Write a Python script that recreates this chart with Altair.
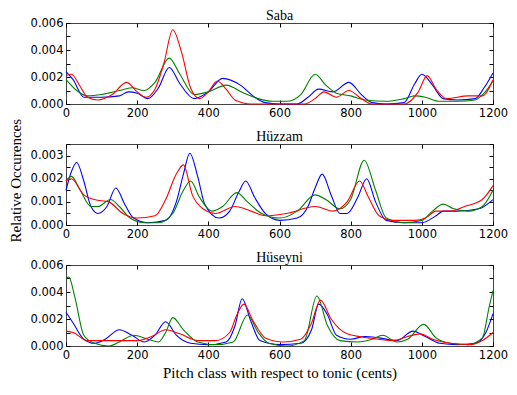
import altair as alt
import pandas as pd

x_ticks = [0, 200, 400, 600, 800, 1000, 1200]

# ---- Saba ----
saba_blue_x = [0, 20, 50, 100, 150, 175, 200, 230, 260, 290, 320, 360, 400, 440, 490, 530, 560, 600, 650, 680, 710, 750, 795, 830, 860, 900, 950, 980, 1000, 1030, 1060, 1100, 1150, 1175, 1200]
saba_blue_y = [0.0024, 0.0018, 0.0005, 0.0005, 0.0006, 0.0009, 0.0008, 0.0004, 0.0012, 0.0027, 0.0015, 0.0004, 0.0009, 0.0019, 0.0014, 0.0005, 0.0001, 0.0000, 0.0000, 0.0005, 0.0011, 0.0009, 0.0016, 0.0007, 0.0001, 0.0000, 0.0001, 0.0015, 0.0022, 0.0014, 0.0004, 0.0003, 0.0004, 0.0012, 0.0023]
saba_green_x = [0, 30, 60, 100, 150, 185, 220, 250, 290, 320, 360, 400, 450, 500, 540, 580, 620, 660, 700, 730, 760, 800, 840, 900, 950, 980, 1010, 1050, 1100, 1150, 1175, 1200]
saba_green_y = [0.0018, 0.0010, 0.0006, 0.0007, 0.0010, 0.0012, 0.0010, 0.0016, 0.0034, 0.0022, 0.0007, 0.0009, 0.0014, 0.0008, 0.0004, 0.0002, 0.0002, 0.0007, 0.0022, 0.0014, 0.0008, 0.0006, 0.0003, 0.0002, 0.0004, 0.0006, 0.0005, 0.0002, 0.0002, 0.0003, 0.0008, 0.0017]
saba_red_x = [0, 15, 40, 60, 90, 130, 170, 200, 225, 250, 275, 300, 325, 350, 375, 400, 425, 450, 475, 520, 600, 670, 700, 725, 760, 795, 830, 860, 950, 990, 1015, 1040, 1070, 1130, 1170, 1200]
saba_red_y = [0.0021, 0.0022, 0.0013, 0.0005, 0.0003, 0.0007, 0.0016, 0.0009, 0.0005, 0.0011, 0.0030, 0.0055, 0.0038, 0.0012, 0.0004, 0.0009, 0.0017, 0.0011, 0.0003, 0.0000, 0.0000, 0.0000, 0.0004, 0.0009, 0.0005, 0.0010, 0.0004, 0.0000, 0.0000, 0.0009, 0.0021, 0.0011, 0.0004, 0.0006, 0.0006, 0.0018]

# ---- Hüzzam ----
huzzam_blue_x = [0, 15, 30, 50, 70, 90, 115, 140, 165, 190, 230, 280, 310, 330, 348, 370, 390, 430, 460, 485, 505, 530, 560, 600, 650, 680, 700, 720, 745, 770, 790, 820, 845, 870, 900, 950, 1000, 1040, 1060, 1100, 1160, 1200]
huzzam_blue_y = [0.0015, 0.0023, 0.0027, 0.0019, 0.0008, 0.0005, 0.0008, 0.0016, 0.0009, 0.0003, 0.0001, 0.0002, 0.0010, 0.0022, 0.0031, 0.0021, 0.0009, 0.0003, 0.0006, 0.0014, 0.0019, 0.0012, 0.0005, 0.0002, 0.0003, 0.0008, 0.0016, 0.0022, 0.0013, 0.0005, 0.0005, 0.0012, 0.0020, 0.0010, 0.0002, 0.0001, 0.0001, 0.0004, 0.0006, 0.0006, 0.0007, 0.0011]
huzzam_green_x = [0, 15, 40, 70, 90, 125, 150, 180, 220, 260, 300, 330, 350, 375, 410, 440, 480, 510, 550, 600, 650, 700, 730, 770, 800, 838, 870, 900, 950, 1000, 1030, 1060, 1090, 1130, 1170, 1200]
huzzam_green_y = [0.0019, 0.0021, 0.0015, 0.0008, 0.0008, 0.0011, 0.0008, 0.0003, 0.0001, 0.0001, 0.0005, 0.0015, 0.0019, 0.0012, 0.0006, 0.0008, 0.0014, 0.0010, 0.0005, 0.0003, 0.0006, 0.0013, 0.0011, 0.0007, 0.0011, 0.0028, 0.0015, 0.0003, 0.0001, 0.0002, 0.0006, 0.0009, 0.0007, 0.0006, 0.0008, 0.0015]
huzzam_red_x = [0, 15, 50, 80, 120, 160, 200, 250, 280, 310, 330, 355, 385, 420, 475, 520, 560, 620, 700, 750, 790, 825, 850, 880, 920, 980, 1010, 1040, 1080, 1120, 1170, 1200]
huzzam_red_y = [0.0019, 0.0020, 0.0013, 0.0011, 0.0010, 0.0005, 0.0003, 0.0004, 0.0011, 0.0022, 0.0026, 0.0013, 0.0007, 0.0005, 0.0008, 0.0006, 0.0004, 0.0005, 0.0008, 0.0006, 0.0010, 0.0019, 0.0012, 0.0004, 0.0002, 0.0002, 0.0003, 0.0006, 0.0006, 0.0008, 0.0011, 0.0017]

# ---- Hüseyni ----
huseyni_blue_x = [0, 20, 50, 80, 110, 150, 185, 220, 250, 280, 310, 350, 400, 450, 475, 495, 520, 545, 600, 660, 690, 710, 735, 760, 800, 840, 880, 930, 975, 1010, 1050, 1100, 1150, 1180, 1200]
huseyni_blue_y = [0.0025, 0.0017, 0.0005, 0.0002, 0.0005, 0.0012, 0.0008, 0.0003, 0.0008, 0.0018, 0.0008, 0.0002, 0.0001, 0.0003, 0.0015, 0.0035, 0.0018, 0.0004, 0.0001, 0.0002, 0.0012, 0.0031, 0.0023, 0.0008, 0.0005, 0.0007, 0.0006, 0.0004, 0.0011, 0.0007, 0.0002, 0.0001, 0.0002, 0.0010, 0.0024]
huseyni_green_x = [0, 8, 25, 50, 80, 120, 150, 190, 230, 260, 280, 300, 330, 370, 420, 470, 510, 540, 570, 620, 670, 705, 735, 770, 820, 860, 890, 930, 960, 1005, 1040, 1080, 1130, 1170, 1190, 1200]
huseyni_green_y = [0.0050, 0.0051, 0.0036, 0.0008, 0.0002, 0.0000, 0.0003, 0.0008, 0.0005, 0.0003, 0.0010, 0.0021, 0.0012, 0.0003, 0.0001, 0.0003, 0.0023, 0.0010, 0.0002, 0.0000, 0.0004, 0.0037, 0.0015, 0.0004, 0.0003, 0.0005, 0.0008, 0.0003, 0.0005, 0.0016, 0.0006, 0.0002, 0.0001, 0.0006, 0.0030, 0.0041]
huseyni_red_x = [0, 20, 60, 100, 200, 240, 280, 320, 370, 420, 460, 480, 500, 525, 560, 610, 660, 690, 715, 745, 790, 850, 920, 960, 995, 1030, 1080, 1140, 1170, 1200]
huseyni_red_y = [0.0011, 0.0010, 0.0004, 0.0004, 0.0004, 0.0007, 0.0012, 0.0009, 0.0004, 0.0004, 0.0010, 0.0023, 0.0031, 0.0019, 0.0006, 0.0003, 0.0005, 0.0017, 0.0034, 0.0020, 0.0009, 0.0006, 0.0004, 0.0007, 0.0009, 0.0005, 0.0002, 0.0001, 0.0004, 0.0010]

series_names = ["blue", "green", "red"]
series_colors = ["#0000ff", "#008000", "#ff0000"]

SERIF = "Liberation Serif"
SANS = "DejaVu Sans"


def make_df(series):
    rows = []
    for order, (key, xs, ys) in enumerate(series):
        for x, y in zip(xs, ys):
            rows.append({"cents": x, "occ": y, "series": key, "order": order})
    return pd.DataFrame(rows)


def panel(title, series, ymax, yvals, label_expr, xtitle=None):
    df = make_df(series)
    xscale = alt.Scale(domain=[0, 1200], nice=False, zero=False)
    yscale = alt.Scale(domain=[0, ymax], nice=False)
    color = alt.Color("series:N",
                      scale=alt.Scale(domain=series_names, range=series_colors),
                      legend=None)
    xaxis_kw = dict(orient="bottom", values=x_ticks, offset=-4, tickSize=4,
                    domain=False, grid=False, labelPadding=3, labelFlush=False,
                    labelOverlap=False, format="d", minExtent=0)
    if xtitle:
        xaxis_kw.update(title=xtitle, titlePadding=5)
    else:
        xaxis_kw.update(title=None)
    yaxis_kw = dict(orient="left", values=yvals, offset=-4, tickSize=4,
                    domain=False, grid=False, labelPadding=3, labelOverlap=False,
                    labelExpr=label_expr, minExtent=0, title=None)

    lines = alt.Chart(df).mark_line(strokeWidth=1.1, interpolate="monotone").encode(
        x=alt.X("cents:Q", scale=xscale, axis=alt.Axis(**xaxis_kw)),
        y=alt.Y("occ:Q", scale=yscale, axis=alt.Axis(**yaxis_kw)),
        color=color,
        order=alt.Order("order:Q"),
    )
    frame = alt.Chart(df).mark_line(opacity=0).encode(
        x=alt.X("cents:Q", scale=xscale,
                axis=alt.Axis(orient="top", values=x_ticks, offset=-4, tickSize=4,
                              domain=False, grid=False, labels=False, title=None,
                              minExtent=0, maxExtent=0)),
        y=alt.Y("occ:Q", scale=yscale,
                axis=alt.Axis(orient="right", values=yvals, offset=-4, tickSize=4,
                              domain=False, grid=False, labels=False, title=None,
                              minExtent=0, maxExtent=0)),
        detail="series:N",
    )
    return alt.layer(lines, frame).resolve_axis(
        x="independent", y="independent"
    ).properties(
        width=427, height=81,
        title=alt.TitleParams(title, font=SERIF, fontSize=14, fontWeight="normal",
                              offset=-6, color="#000"),
    )


even_label = "abs(round(datum.value * 1000)) % 2 == 0 ? format(datum.value, '.3f') : ''"
int_label = "abs(datum.value * 1000 - round(datum.value * 1000)) < 0.001 ? format(datum.value, '.3f') : ''"

p1 = panel("Saba",
           [("blue", saba_blue_x, saba_blue_y),
            ("green", saba_green_x, saba_green_y),
            ("red", saba_red_x, saba_red_y)],
           0.006, [0, 0.001, 0.002, 0.003, 0.004, 0.005, 0.006], even_label)
p2 = panel("Hüzzam",
           [("blue", huzzam_blue_x, huzzam_blue_y),
            ("green", huzzam_green_x, huzzam_green_y),
            ("red", huzzam_red_x, huzzam_red_y)],
           0.0035, [0, 0.0005, 0.001, 0.0015, 0.002, 0.0025, 0.003, 0.0035], int_label)
p3 = panel("Hüseyni",
           [("blue", huseyni_blue_x, huseyni_blue_y),
            ("green", huseyni_green_x, huseyni_green_y),
            ("red", huseyni_red_x, huseyni_red_y)],
           0.006, [0, 0.001, 0.002, 0.003, 0.004, 0.005, 0.006], even_label,
           xtitle="Pitch class with respect to tonic (cents)")

chart = alt.vconcat(p1, p2, p3, spacing=40, bounds="flush").properties(
    title=alt.TitleParams("Relative Occurences", orient="left", anchor="middle",
                          font=SERIF, fontSize=15, fontWeight="normal",
                          color="#000", offset=6, dx=14),
    padding={"left": 0, "top": 0, "right": 0, "bottom": 0},
    background="#ffffff",
).configure_view(
    stroke="#444444", strokeWidth=1
).configure_axis(
    labelFont=SANS, labelFontSize=11.5, labelColor="#000000",
    tickColor="#000000", tickWidth=1,
    titleFont=SERIF, titleFontSize=15, titleFontWeight="normal", titleColor="#000000",
)

chart.save("out.html", embed_options={"renderer": "svg", "actions": False})
